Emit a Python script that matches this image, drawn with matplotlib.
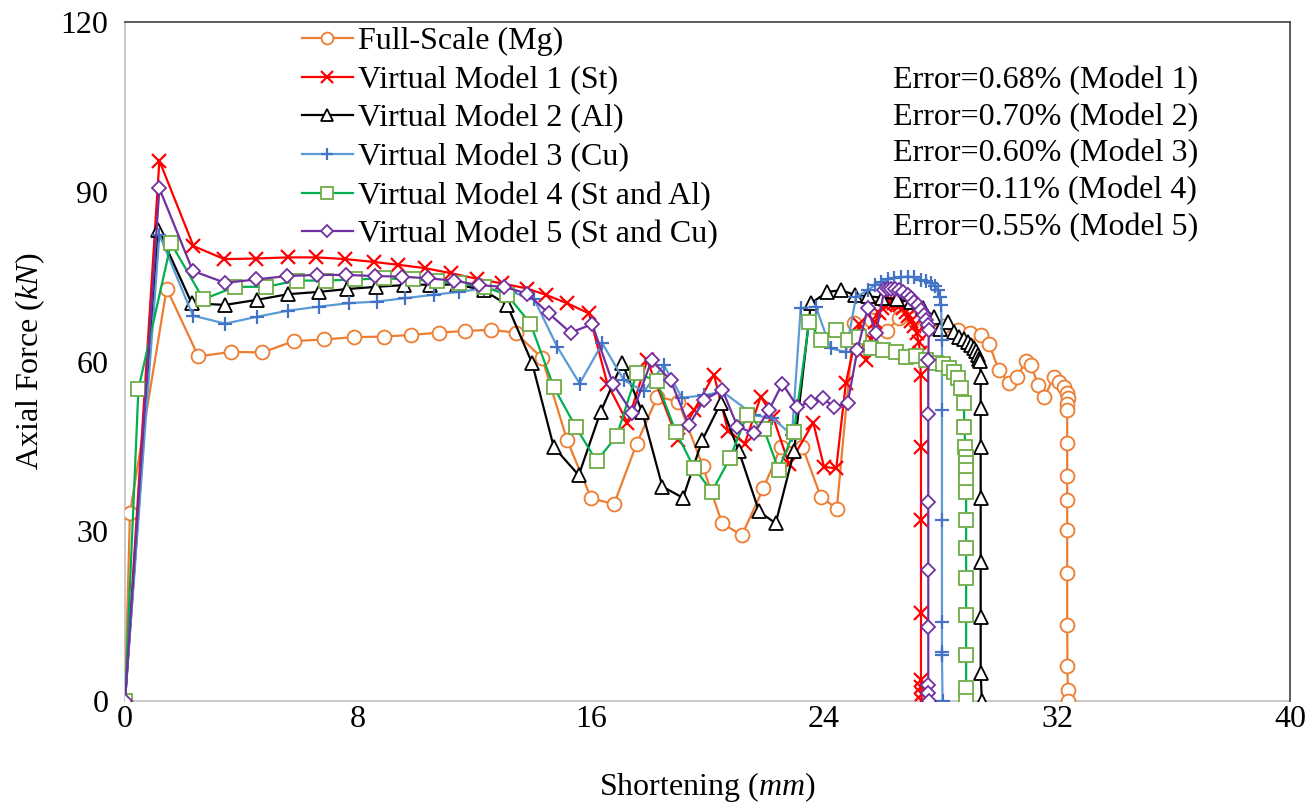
import matplotlib
matplotlib.use("Agg")
import matplotlib.pyplot as plt

plt.rcParams['font.family'] = ['Liberation Serif', 'DejaVu Serif']
plt.rcParams['mathtext.fontset'] = 'custom'
plt.rcParams['mathtext.rm'] = 'Liberation Serif'
plt.rcParams['mathtext.it'] = 'Liberation Serif:italic'

# ---------------- data ----------------
x_fs = [0, 0.17, 1.43, 2.52, 3.64, 4.72, 5.79, 6.84, 7.85, 8.88, 9.83, 10.77, 11.69, 12.58, 13.41,
        14.32, 15.18, 16.01, 16.79, 17.57, 18.28, 19.0, 19.83, 20.5, 21.18, 21.92, 22.52, 23.26,
        23.89, 24.44, 25.03, 25.6, 26.16, 26.57, 27.05, 27.55, 28.1, 28.6, 29.0, 29.4, 29.67, 30.0,
        30.36, 30.63, 30.94, 31.1, 31.35, 31.56, 31.9, 32.07, 32.24, 32.33, 32.38, 32.36, 32.35,
        32.35, 32.35, 32.35, 32.35, 32.35, 32.35, 32.36, 32.37, 32.37]
y_fs = [0, 33.2, 72.9, 60.9, 61.7, 61.6, 63.6, 63.9, 64.3, 64.4, 64.7, 65.1, 65.4, 65.6, 65.1,
        60.6, 46.1, 35.8, 34.8, 45.5, 53.8, 52.9, 41.6, 31.4, 29.3, 37.6, 44.9, 44.9,
        36.1, 34.0, 66.8, 67.3, 65.4, 67.7, 67.5, 66.5, 66.2, 65.6, 65.0, 64.7, 63.1, 58.5,
        56.2, 57.3, 60.1, 59.4, 55.9, 53.7, 57.3, 56.4, 55.5, 54.5, 53.5, 52.5, 51.5,
        45.6, 39.8, 35.5, 30.2, 22.6, 13.4, 6.2, 1.9, 0]

x_m1 = [0, 1.18, 2.35, 3.41, 4.5, 5.58, 6.57, 7.56, 8.54, 9.37, 10.3, 11.2, 12.1, 12.95, 13.8,
        14.44, 15.18, 15.93, 16.56, 17.25, 17.93, 18.98, 19.55, 20.22, 20.7, 21.28, 21.83, 22.25,
        22.8, 23.63, 24.0, 24.42, 24.75, 25.2, 25.44, 25.6, 25.75, 25.9, 26.0, 26.1, 26.2, 26.3,
        26.4, 26.5, 26.6, 26.7, 26.8, 26.9, 27.0, 27.1, 27.18, 27.25, 27.3, 27.32, 27.33, 27.33,
        27.33, 27.33, 27.33, 27.35, 27.35]
y_m1 = [0, 95.5, 80.4, 78.1, 78.2, 78.4, 78.4, 78.1, 77.6, 77.1, 76.5, 75.6, 74.6, 73.8, 72.9,
        71.8, 70.3, 68.5, 56.1, 49.2, 60.2, 46.1, 51.5, 57.7, 47.8, 45.5, 53.8, 50.2,
        41.8, 49.2, 41.4, 41.1, 56.2, 66.7, 60.3, 64.0, 67.0, 68.5, 69.5, 70.0, 70.3, 70.5,
        70.4, 70.2, 69.9, 69.4, 68.8, 68.0, 67.2, 66.2, 65.0, 63.5, 61.5, 57.6, 44.9, 32.0,
        15.5, 3.7, 2.5, 1.2, 0]

x_m2 = [0, 1.15, 2.29, 3.44, 4.53, 5.61, 6.65, 7.62, 8.63, 9.57, 10.48, 11.4, 12.32, 13.12, 13.98,
        14.72, 15.58, 16.33, 17.07, 17.76, 18.45, 19.16, 19.82, 20.45, 21.08, 21.77, 22.34, 22.97,
        23.55, 24.12, 24.58, 25.05, 25.5, 26.0, 26.5, 27.0, 27.4, 27.78, 28.0, 28.25, 28.45, 28.65,
        28.8, 28.93, 29.05, 29.16, 29.22, 29.28, 29.33, 29.36, 29.38, 29.38, 29.38, 29.38, 29.38,
        29.38, 29.38, 29.42]
y_m2 = [0, 83.2, 70.3, 70.0, 70.9, 71.9, 72.3, 72.8, 73.2, 73.5, 73.6, 73.6, 72.6, 70.0, 59.7,
        44.9, 39.9, 51.1, 59.7, 51.1, 37.9, 35.9, 46.1, 52.6, 44.1, 33.5, 31.4, 44.1,
        70.3, 72.3, 72.6, 71.8, 71.5, 71.3, 71.0, 70.5, 69.5, 67.9, 65.8, 67.0, 65.3, 64.4,
        64.0, 63.5, 63.0, 62.3, 61.8, 61.1, 60.5, 60.0, 57.3, 51.7, 44.9, 35.8, 24.6,
        14.9, 4.9, 0]

x_m3 = [0, 1.18, 2.33, 3.44, 4.53, 5.61, 6.65, 7.68, 8.65, 9.63, 10.6, 11.46, 12.32, 13.23, 14.04,
        14.84, 15.61, 16.39, 17.13, 17.82, 18.5, 19.12, 19.87, 20.51, 21.6, 22.23, 22.9, 23.2,
        23.72, 24.23, 24.75, 25.1, 25.5, 25.75, 25.95, 26.2, 26.41, 26.65, 26.87, 27.1, 27.33,
        27.5, 27.67, 27.8, 27.9, 27.97, 28.02, 28.05, 28.05, 28.05, 28.05, 28.05, 28.05, 28.07]
y_m3 = [0, 82.4, 68.1, 66.7, 67.9, 69.0, 69.7, 70.3, 70.6, 71.2, 71.8, 72.3, 72.9, 72.3, 71.1,
        62.6, 56.1, 63.2, 56.7, 54.7, 59.4, 53.6, 54.0, 54.7, 50.5, 50.0, 47.0, 69.4,
        69.7, 62.3, 61.7, 71.4, 72.6, 73.5, 74.1, 74.5, 74.7, 74.9, 75.0, 74.9, 74.4,
        74.2, 73.8, 73.3, 72.6, 71.4, 70.0, 63.8, 51.4, 32.0, 14.0, 8.7, 8.1, 0]

x_m4 = [0, 0.46, 1.58, 2.69, 3.78, 4.85, 5.9, 6.9, 7.91, 8.88, 9.9, 10.7, 11.46, 12.32, 13.12,
        13.92, 14.72, 15.47, 16.19, 16.88, 17.57, 18.25, 18.91, 19.54, 20.15, 20.77, 21.35, 21.94,
        22.44, 22.97, 23.49, 23.89, 24.41, 24.81, 25.2, 25.61, 26.01, 26.47, 26.81, 27.15, 27.5,
        27.84, 28.1, 28.3, 28.45, 28.59, 28.7, 28.8, 28.82, 28.85, 28.87, 28.88, 28.88, 28.88,
        28.88, 28.88, 28.88, 28.88, 28.88, 28.88, 28.88, 28.88]
y_m4 = [0, 55.1, 80.9, 71.0, 73.2, 73.2, 74.3, 74.3, 74.5, 74.7, 74.5, 74.2, 73.8, 73.2, 71.8,
        66.7, 55.5, 48.5, 42.4, 46.8, 57.9, 56.6, 47.6, 41.2, 37.0, 42.9, 50.5, 48.0,
        40.9, 47.6, 67.0, 63.8, 65.6, 63.8, 64.4, 62.3, 62.0, 61.7, 60.8, 61.0, 60.3,
        59.7, 59.5, 58.8, 58.2, 57.0, 55.3, 52.6, 48.5, 44.9, 43.1, 42.0, 40.8, 39.0,
        37.0, 32.0, 27.0, 21.7, 15.2, 8.1, 2.3, 0]

x_m5 = [0, 1.18, 2.33, 3.44, 4.5, 5.56, 6.59, 7.6, 8.59, 9.5, 10.4, 11.3, 12.15, 13.0, 13.81,
        14.55, 15.3, 16.04, 16.75, 17.42, 18.08, 18.73, 19.36, 19.88, 20.51, 21.03, 21.6, 22.11,
        22.57, 23.09, 23.55, 23.95, 24.35, 24.81, 25.15, 25.5, 25.78, 26.07, 26.2, 26.3, 26.45,
        26.58, 26.72, 26.87, 27.0, 27.1, 27.22, 27.33, 27.42, 27.5, 27.56, 27.6, 27.58, 27.58,
        27.58, 27.58, 27.58, 27.58, 27.58, 27.6]
y_m5 = [0, 90.6, 76.0, 73.9, 74.5, 75.1, 75.3, 75.3, 75.1, 75.0, 74.7, 74.3, 73.5, 73.2, 72.0,
        68.5, 65.1, 66.6, 56.1, 50.9, 60.2, 56.7, 48.7, 53.2, 55.0, 48.5, 47.3, 51.4,
        56.1, 52.0, 52.9, 53.5, 52.0, 52.6, 62.1, 69.4, 65.0, 72.6, 72.8, 72.9, 72.8,
        72.6, 72.2, 71.8, 71.2, 70.6, 69.9, 69.1, 68.2, 67.3, 66.5, 65.6, 60.3, 50.8,
        35.2, 23.2, 13.1, 2.8, 1.4, 0]

labels = ["Full-Scale (Mg)", "Virtual Model 1 (St)", "Virtual Model 2 (Al)",
          "Virtual Model 3 (Cu)", "Virtual Model 4 (St and Al)", "Virtual Model 5 (St and Cu)"]
errors = ["Error=0.68% (Model 1)", "Error=0.70% (Model 2)", "Error=0.60% (Model 3)",
          "Error=0.11% (Model 4)", "Error=0.55% (Model 5)"]
x_ticks = [0, 8, 16, 24, 32, 40]
y_ticks = [0, 30, 60, 90, 120]

# ---------------- figure ----------------
fig = plt.figure(figsize=(13.16, 8.05), dpi=100)
ax = fig.add_axes([125 / 1316, 1 - 701 / 805, 1165 / 1316, 679 / 805])

FS = 23
lw = 1.6
ax.plot(x_fs, y_fs, color='#ED7D31', lw=lw, marker='o', ms=10, mfc='white', mec='#ED7D31',
        mew=1.3, label=labels[0])
ax.plot(x_m1, y_m1, color='#FF0000', lw=lw, marker='x', ms=9.5, mec='#FF0000', mew=1.6,
        label=labels[1])
ax.plot(x_m2, y_m2, color='black', lw=lw, marker='^', ms=9.5, mfc='white', mec='black',
        mew=1.3, label=labels[2])
ax.plot(x_m3, y_m3, color='#5B9BD5', lw=lw, marker='+', ms=10.5, mec='#4472C4', mew=1.6,
        label=labels[3])
ax.plot(x_m4, y_m4, color='#00B050', lw=lw, marker='s', ms=9.5, mfc='white', mec='#70AD47',
        mew=1.3, label=labels[4])
ax.plot(x_m5, y_m5, color='#7030A0', lw=lw, marker='D', ms=7.5, mfc='white', mec='#7030A0',
        mew=1.3, label=labels[5])

ax.set_xlim(x_ticks[0], x_ticks[-1])
ax.set_ylim(y_ticks[0], y_ticks[-1])
ax.set_xticks(x_ticks)
ax.set_yticks(y_ticks)
ax.set_xticklabels([str(t) for t in x_ticks])
ax.set_yticklabels([str(t) for t in y_ticks])
ax.tick_params(axis='both', length=0, labelsize=FS)
ax.tick_params(axis='x', pad=3)
ax.tick_params(axis='y', pad=12)

for s in ['left', 'bottom']:
    ax.spines[s].set_color('#BFBFBF')
    ax.spines[s].set_linewidth(1.2)
for s in ['top', 'right']:
    ax.spines[s].set_color('#404040')
    ax.spines[s].set_linewidth(1.2)
ax.spines['left'].set_zorder(0.5)
ax.spines['bottom'].set_zorder(0.5)

ax.set_xlabel('Shortening ($mm$)', fontsize=FS, labelpad=26)
ax.set_ylabel('Axial Force ($kN$)', fontsize=FS, labelpad=10)

leg = ax.legend(loc='upper left', bbox_to_anchor=((300 - 125) / 1165, 0.995), frameon=False,
                fontsize=FS, handlelength=1.6, handletextpad=0.15, labelspacing=0.29,
                borderpad=0.05, borderaxespad=0.0, markerscale=0.85)

y_err = [0.914, 0.8595, 0.806, 0.752, 0.6975]
for txt, yy in zip(errors, y_err):
    ax.text(0.659, yy, txt, transform=ax.transAxes, fontsize=FS, va='center', ha='left')

fig.savefig('out.png', dpi=100)
